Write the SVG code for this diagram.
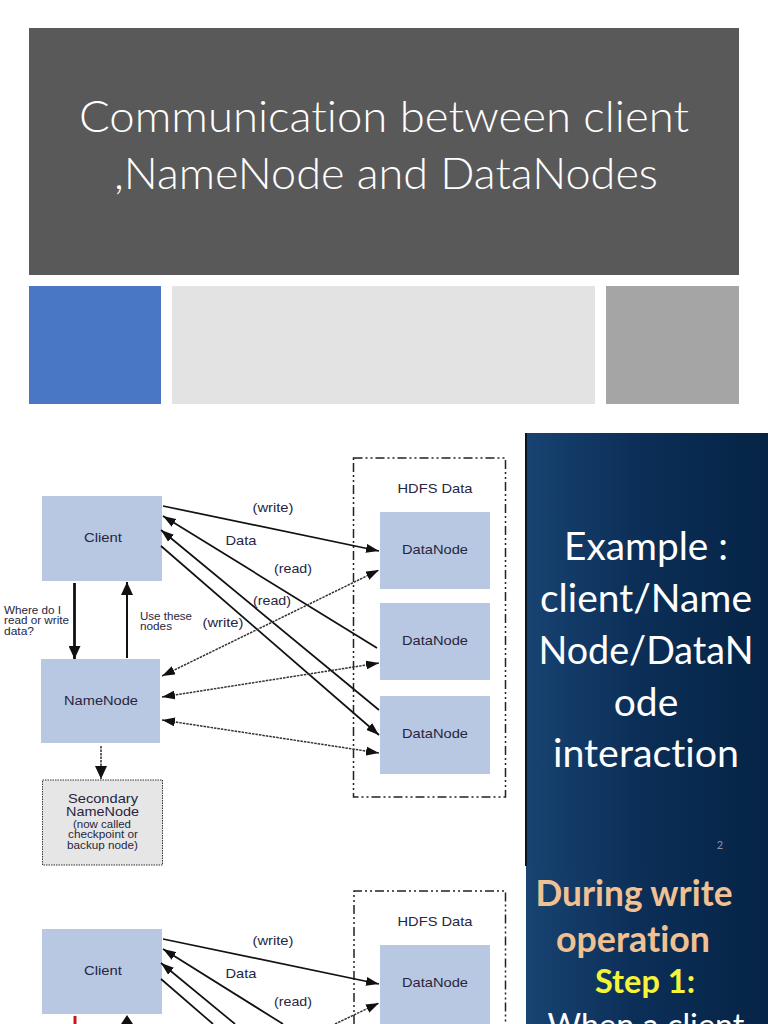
<svg xmlns="http://www.w3.org/2000/svg" width="768" height="1024" viewBox="0 0 768 1024">
<style>
text{font-variant-ligatures:none}
.d{font-family:"Liberation Sans",Arial,sans-serif;fill:#26263f;text-anchor:middle}
.n{fill:#b9c8e2}
.l{font-size:13px}
.s{font-size:10.5px;text-anchor:start}
.c{font-family:Lato,"Open Sans",sans-serif;text-anchor:middle}
.w{fill:#fff;font-size:39px}
.sol{stroke:#111;stroke-width:1.7;fill:none}
.dot{stroke:#333;stroke-width:1.5;stroke-dasharray:2.5 1;fill:none}
.box{fill:none;stroke:#222;stroke-width:1.5;stroke-dasharray:9 3 2 3 2 3}
</style>
<defs>
<marker id="a" markerUnits="userSpaceOnUse" markerWidth="14" markerHeight="9" refX="13" refY="4.500" orient="auto-start-reverse"><path d="M0 0L13 4.500L0 9Z" fill="#111"/></marker>
<marker id="b" markerUnits="userSpaceOnUse" markerWidth="14" markerHeight="12" refX="13" refY="6" orient="auto"><path d="M0 0L13 6L0 12Z" fill="#111"/></marker>
<linearGradient id="g" x1="0" x2="1" y1="0" y2="0"><stop offset="0" stop-color="#184372"/><stop offset=".45" stop-color="#0c2f58"/><stop offset="1" stop-color="#052445"/></linearGradient>
</defs>
<rect width="768" height="1024" fill="#fff"/>
<g id="title"><rect x="29" y="28" width="710" height="247" fill="#595959"/>
<text class="c" x="384" y="132" font-size="44" fill="#fff" textLength="610" lengthAdjust="spacingAndGlyphs" style="font-weight:300">Communication between client</text>
<text class="c" x="386" y="189" font-size="44" fill="#fff" textLength="544" lengthAdjust="spacingAndGlyphs" style="font-weight:300">,NameNode and DataNodes</text></g>
<g id="bands"><rect x="29" y="286" width="132" height="118" fill="#4a76c6"/><rect x="172" y="286" width="423" height="118" fill="#e3e3e3"/><rect x="606" y="286" width="133" height="118" fill="#a5a5a5"/></g>

<g id="panel-example"><rect x="525" y="433" width="243" height="433" fill="url(#g)"/><rect x="525" y="433" width="2" height="433" fill="#0a1420"/>
<text class="c w" x="646" y="560" textLength="164" lengthAdjust="spacingAndGlyphs">Example :</text><text class="c w" x="646" y="612" textLength="212" lengthAdjust="spacingAndGlyphs">client/Name</text><text class="c w" x="646" y="664" textLength="215" lengthAdjust="spacingAndGlyphs">Node/DataN</text><text class="c w" x="646" y="716">ode</text><text class="c w" x="646" y="767" textLength="186" lengthAdjust="spacingAndGlyphs">interaction</text>
<text class="c" x="720" y="849" font-size="11" fill="#8a97a8">2</text></g>
<g id="panel-step"><rect x="526" y="866" width="242" height="158" fill="url(#g)"/>
<text class="c" x="634" y="906" font-size="36" font-weight="700" fill="#f0c193" textLength="197" lengthAdjust="spacingAndGlyphs">During write</text>
<text class="c" x="633" y="952" font-size="36" font-weight="700" fill="#f0c193" textLength="154" lengthAdjust="spacingAndGlyphs">operation</text>
<text class="c" x="645" y="993" font-size="32" font-weight="700" fill="#f4f43a" textLength="100" lengthAdjust="spacingAndGlyphs">Step 1:</text>
<text class="c" x="646" y="1037" font-size="32" fill="#fff" textLength="197" lengthAdjust="spacingAndGlyphs">When a client</text></g>

<g id="hdfs-box-1"><rect class="box" x="353.500" y="458" width="152" height="339"/><text class="d l" x="435" y="493" textLength="75" lengthAdjust="spacingAndGlyphs">HDFS Data</text></g>
<g id="client-1"><rect class="n" x="42" y="496" width="120" height="85"/><text class="d l" x="103" y="542" textLength="38" lengthAdjust="spacingAndGlyphs">Client</text></g>
<g id="namenode-1"><rect class="n" x="41" y="659" width="119" height="84"/><text class="d l" x="101" y="705" textLength="74" lengthAdjust="spacingAndGlyphs">NameNode</text></g>
<g id="secondary-1"><rect x="42.500" y="780" width="120" height="85" fill="#e6e6e6" stroke="#333" stroke-dasharray="1.500 1"/>
<text class="d" x="103" y="803" font-size="13" textLength="70" lengthAdjust="spacingAndGlyphs">Secondary</text><text class="d" x="102.500" y="816" font-size="13" textLength="73" lengthAdjust="spacingAndGlyphs">NameNode</text><text class="d" x="102" y="828" font-size="10.500" textLength="58" lengthAdjust="spacingAndGlyphs">(now called</text><text class="d" x="103" y="838" font-size="10.500" textLength="70" lengthAdjust="spacingAndGlyphs">checkpoint or</text><text class="d" x="102.500" y="849" font-size="10.500" textLength="71" lengthAdjust="spacingAndGlyphs">backup node)</text></g>
<g id="datanode-1a"><rect class="n" x="380" y="512" width="110" height="77"/><text class="d l" x="435" y="554" textLength="66" lengthAdjust="spacingAndGlyphs">DataNode</text></g>
<g id="datanode-1b"><rect class="n" x="380" y="603" width="110" height="77"/><text class="d l" x="435" y="645" textLength="66" lengthAdjust="spacingAndGlyphs">DataNode</text></g>
<g id="datanode-1c"><rect class="n" x="380" y="696" width="110" height="78"/><text class="d l" x="435" y="738" textLength="66" lengthAdjust="spacingAndGlyphs">DataNode</text></g>
<g id="connectors-1">
<path class="sol" d="M163 506L379 551" marker-end="url(#a)"/>
<path class="sol" d="M377 648L163 516" marker-end="url(#a)"/>
<path class="sol" d="M379 710L161 530" marker-end="url(#a)"/>
<path class="sol" d="M161 546L379 735" marker-end="url(#a)"/>
<path class="sol" d="M74.500 583V659" style="stroke-width:2.800" marker-end="url(#b)"/>
<path class="sol" d="M127 658V582" style="stroke-width:2" marker-end="url(#b)"/>
<path class="dot" d="M162 676L379 570" marker-start="url(#a)" marker-end="url(#a)"/>
<path class="dot" d="M162 697L379 663" marker-start="url(#a)" marker-end="url(#a)"/>
<path class="dot" d="M162 720L379 753" marker-start="url(#a)" marker-end="url(#a)"/>
<path class="dot" d="M101 746V779" marker-end="url(#b)"/>
</g>
<g id="labels-1">
<text class="d l" x="273" y="512" textLength="41" lengthAdjust="spacingAndGlyphs">(write)</text><text class="d l" x="241" y="545" textLength="31" lengthAdjust="spacingAndGlyphs">Data</text><text class="d l" x="293" y="573" textLength="38" lengthAdjust="spacingAndGlyphs">(read)</text><text class="d l" x="272" y="605" textLength="38" lengthAdjust="spacingAndGlyphs">(read)</text><text class="d l" x="223" y="627" textLength="41" lengthAdjust="spacingAndGlyphs">(write)</text>
<text class="d s" x="4" y="614" textLength="57" lengthAdjust="spacingAndGlyphs">Where do I</text><text class="d s" x="4" y="624" textLength="65" lengthAdjust="spacingAndGlyphs">read or write</text><text class="d s" x="4" y="635" textLength="30" lengthAdjust="spacingAndGlyphs">data?</text>
<text class="d s" x="140" y="620" textLength="52" lengthAdjust="spacingAndGlyphs">Use these</text><text class="d s" x="140" y="630" textLength="32" lengthAdjust="spacingAndGlyphs">nodes</text></g>

<g id="hdfs-box-2"><path class="box" d="M354 1024V891H505.500V1024"/><text class="d l" x="435" y="926" textLength="75" lengthAdjust="spacingAndGlyphs">HDFS Data</text></g>
<g id="client-2"><rect class="n" x="42" y="929" width="120" height="85"/><text class="d l" x="103" y="975" textLength="38" lengthAdjust="spacingAndGlyphs">Client</text></g>
<g id="datanode-2a"><rect class="n" x="380" y="945" width="110" height="79"/><text class="d l" x="435" y="987" textLength="66" lengthAdjust="spacingAndGlyphs">DataNode</text></g>
<g id="connectors-2">
<path class="sol" d="M163 939L379 984" marker-end="url(#a)"/>
<path class="sol" d="M283 1024L163 949" marker-end="url(#a)"/>
<path class="sol" d="M235 1024L161 963" marker-end="url(#a)"/>
<path class="sol" d="M161 979L213 1024"/>
<path class="dot" d="M335 1024L379 1003" marker-end="url(#a)"/>
<path d="M75 1016V1024" stroke="#c8141e" stroke-width="3"/>
<path d="M121 1024L127 1015L133 1024Z" fill="#111"/>
</g>
<g id="labels-2"><text class="d l" x="273" y="945" textLength="41" lengthAdjust="spacingAndGlyphs">(write)</text><text class="d l" x="241" y="978" textLength="31" lengthAdjust="spacingAndGlyphs">Data</text><text class="d l" x="293" y="1006" textLength="38" lengthAdjust="spacingAndGlyphs">(read)</text></g>
</svg>
